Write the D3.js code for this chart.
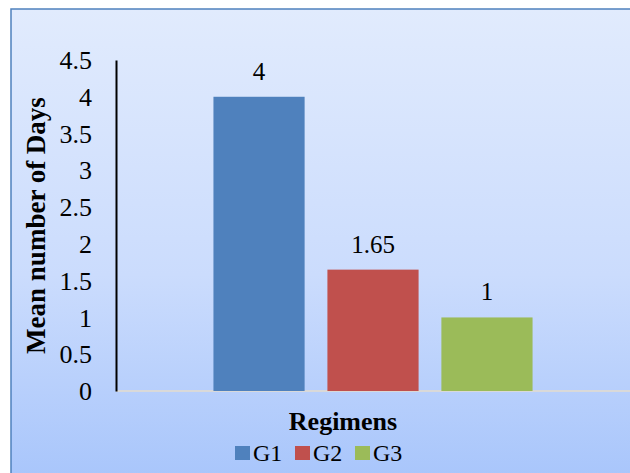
<!DOCTYPE html>
<html>
<head>
<meta charset="utf-8">
<script src="https://cdn.jsdelivr.net/npm/d3@7"></script>
<style>
  html, body { margin: 0; padding: 0; background: #fff; }
  svg { display: block; }
  text { font-family: "Liberation Serif", "Times New Roman", serif; fill: #000; }
</style>
</head>
<body>
<svg id="chart" width="630" height="473"></svg>
<script>
// Mean number of days per regimen (single category, three series)
const series = ['G1', 'G2', 'G3'];
const values = [4, 1.65, 1];
const valueLabels = ['4', '1.65', '1'];
const colors = ['#4F81BD', '#C0504D', '#9BBB59'];
const yTicks = [0, 0.5, 1, 1.5, 2, 2.5, 3, 3.5, 4, 4.5];

const W = 630, H = 473;
const plot = { left: 116, right: 630, top: 60, bottom: 391 };
const serif = '"Liberation Serif", "Times New Roman", serif';

const svg = d3.select('#chart');

// Chart area background: light-to-deeper blue vertical gradient
const grad = svg.append('defs').append('linearGradient')
  .attr('id', 'bg').attr('x1', 0).attr('y1', 0).attr('x2', 0).attr('y2', 1);
grad.append('stop').attr('offset', '0%').attr('stop-color', '#E1EBFD');
grad.append('stop').attr('offset', '55%').attr('stop-color', '#CBDCFD');
grad.append('stop').attr('offset', '100%').attr('stop-color', '#A6C4FB');

svg.append('rect')
  .attr('x', 11).attr('y', 9)
  .attr('width', W + 10).attr('height', H + 10)
  .attr('fill', 'url(#bg)')
  .attr('stroke', '#4F81BD')
  .attr('stroke-width', 1.5);

const y = d3.scaleLinear().domain([0, 4.5]).range([plot.bottom, plot.top]);
const x = d3.scaleBand().domain(series)
  .range([plot.left, plot.right])
  .paddingInner(0.2)
  .paddingOuter(0.855);

// x axis baseline (light gray)
svg.append('line')
  .attr('x1', plot.left).attr('x2', plot.right)
  .attr('y1', y(0)).attr('y2', y(0))
  .attr('stroke', '#D9D9D9').attr('stroke-width', 2);

// bars
svg.append('g').selectAll('rect')
  .data(series)
  .join('rect')
  .attr('x', d => x(d))
  .attr('width', x.bandwidth())
  .attr('y', (d, i) => y(values[i]))
  .attr('height', (d, i) => y(0) - y(values[i]))
  .attr('fill', (d, i) => colors[i]);

// data labels
svg.append('g').selectAll('text')
  .data(series)
  .join('text')
  .attr('x', d => x(d) + x.bandwidth() / 2)
  .attr('y', (d, i) => y(values[i]) - 17)
  .attr('text-anchor', 'middle')
  .style('font-family', serif)
  .style('font-size', '25px')
  .text((d, i) => valueLabels[i]);

// y axis
const yAxis = svg.append('g')
  .attr('transform', `translate(${plot.left},0)`)
  .call(d3.axisLeft(y).tickValues(yTicks).tickSize(0).tickPadding(24)
    .tickFormat(d3.format('')));
yAxis.attr('font-family', null).attr('font-size', null);
yAxis.select('.domain').attr('stroke', '#000').attr('stroke-width', 2);
yAxis.selectAll('text')
  .style('font-size', '26px')
  .style('font-family', serif)
  .attr('fill', '#000')
  .attr('dy', '0.33em');

// y axis title
svg.append('text')
  .attr('transform', `translate(45,${(plot.top + plot.bottom) / 2}) rotate(-90)`)
  .attr('text-anchor', 'middle')
  .style('font-family', serif)
  .style('font-size', '27px')
  .style('font-weight', 'bold')
  .text('Mean number of Days');

// x axis title
svg.append('text')
  .attr('x', 343).attr('y', 430)
  .attr('text-anchor', 'middle')
  .style('font-family', serif)
  .style('font-size', '26px')
  .style('font-weight', 'bold')
  .text('Regimens');

// legend
const legend = svg.append('g').attr('transform', 'translate(235,461)');
const legendX = d3.scalePoint().domain(series).range([0, 120]);
const item = legend.selectAll('g').data(series).join('g')
  .attr('transform', d => `translate(${legendX(d)},0)`);
item.append('rect')
  .attr('x', 0).attr('y', -15).attr('width', 15).attr('height', 14)
  .attr('fill', (d, i) => colors[i]);
item.append('text')
  .attr('x', 18).attr('y', 0)
  .style('font-family', serif)
  .style('font-size', '24px')
  .text(d => d);
</script>
</body>
</html>
